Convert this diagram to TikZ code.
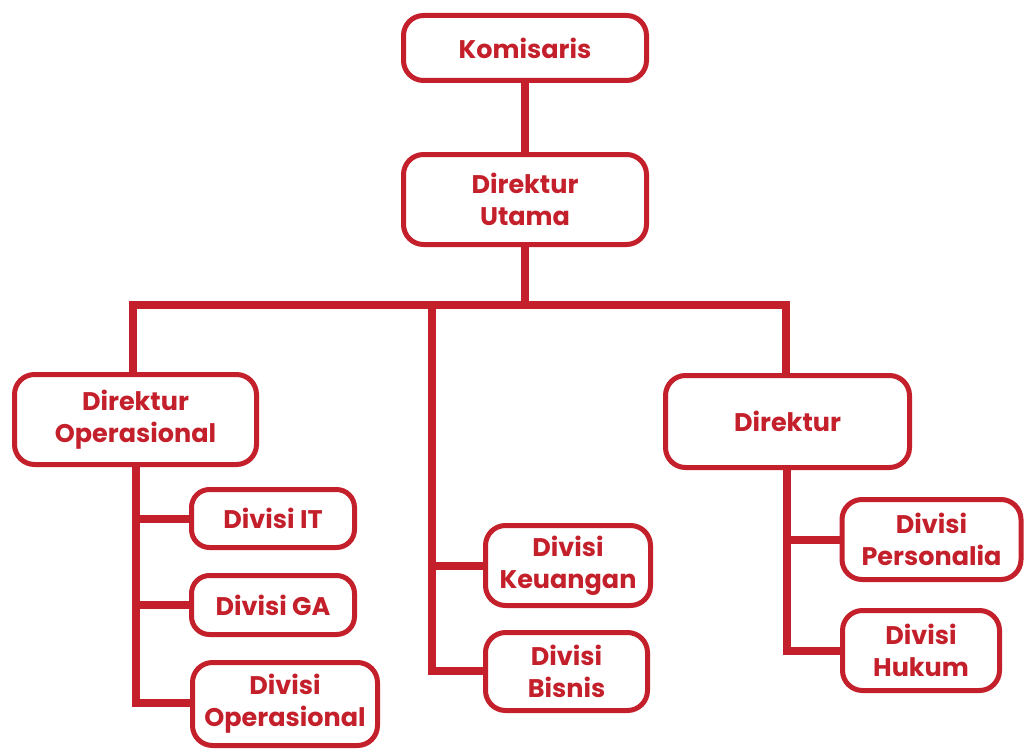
\documentclass[tikz,border=0pt]{standalone}
\usepackage{fontspec}
\setmainfont{Poppins}
\definecolor{orgred}{HTML}{C4202B}
\begin{document}
\begin{tikzpicture}[x=1pt,y=-1pt,
  box/.style={draw=orgred, line width=5pt, rounded corners=20pt, fill=white,
    text=orgred, align=center, inner sep=0pt,
    font=\fontsize{25.5}{32}\selectfont\bfseries},
  conn/.style={draw=orgred, line width=8pt, line join=miter}]
\useasboundingbox (0,0) rectangle (1025,749);
% connectors
\coordinate (busL) at (133,305);
\coordinate (busR) at (786,305);
\coordinate (busM) at (432,305);
\coordinate (lv) at (136,703);
\coordinate (mv) at (432,671);
\coordinate (rv) at (787,651);
\node[box, minimum width=243pt, minimum height=65pt] (kom) at (525,48) {Komisaris};
\node[box, minimum width=243pt, minimum height=90pt] (du) at (525,199.5) {Direktur\\Utama};
\node[box, minimum width=242pt, minimum height=90pt] (do) at (135.5,419.5) {Direktur\\Operasional};
\node[box, minimum width=244pt, minimum height=92pt] (dir) at (787.5,421.5) {Direktur};
\node[box, minimum width=163pt, minimum height=58pt, rounded corners=18pt] (it) at (273,518.5) {Divisi IT};
\node[box, minimum width=163pt, minimum height=59pt, rounded corners=18pt] (ga) at (273,605) {Divisi GA};
\node[box, minimum width=185pt, minimum height=83pt] (op) at (285,704) {Divisi\\Operasional};
\node[box, minimum width=165pt, minimum height=80pt] (keu) at (568,565.5) {Divisi\\Keuangan};
\node[box, minimum width=162pt, minimum height=78pt] (bis) at (566.5,671.5) {Divisi\\Bisnis};
\node[box, minimum width=179pt, minimum height=80pt] (per) at (931.5,539.5) {Divisi\\Personalia};
\node[box, minimum width=157pt, minimum height=80pt] (huk) at (921,650.5) {Divisi\\Hukum};
\draw[conn] (kom.south) -- (du.north);
\draw[conn] (du.south) -- (du.south |- busM);
\draw[conn] (busL |- do.north) -- (busL) -- (busR) -- (busR |- dir.north);
\draw[conn] (busM) -- (mv) -- (bis.west |- mv);
\draw[conn] (mv |- keu.west) -- (keu.west);
\draw[conn] (lv |- do.south) -- (lv) -- (op.west |- lv);
\draw[conn] (lv |- it.west) -- (it.west);
\draw[conn] (lv |- ga.west) -- (ga.west);
\draw[conn] (rv |- dir.south) -- (rv) -- (huk.west |- rv);
\draw[conn] (rv |- per.west) -- (per.west);
\end{tikzpicture}
\end{document}
